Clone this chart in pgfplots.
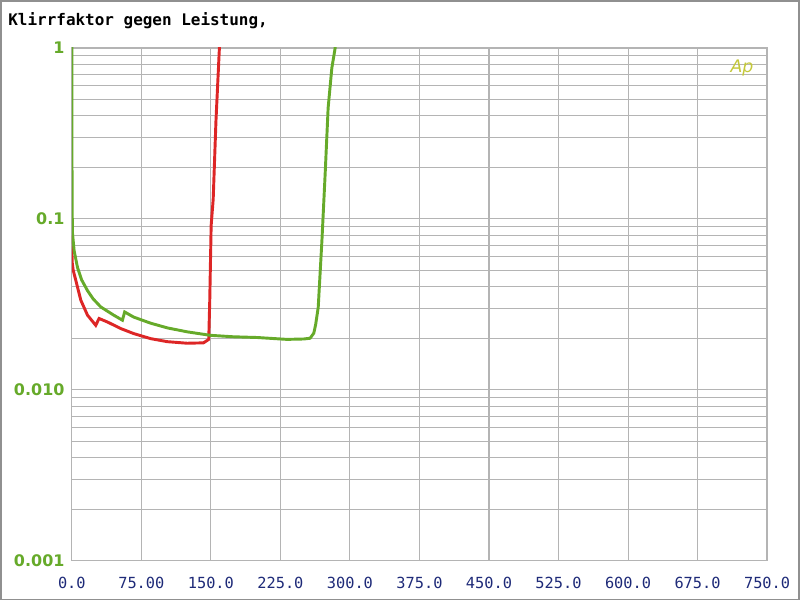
\documentclass[border=0pt]{standalone}
\usepackage{fontspec}
\setmonofont{DejaVu Sans Mono}
\setsansfont{DejaVu Sans}
\usepackage{pgfplots}
\pgfplotsset{compat=1.18}

\definecolor{apred}{HTML}{DD2626}
\definecolor{apgreen}{HTML}{66AA2A}
\definecolor{apnavy}{HTML}{1E2A78}
\definecolor{apgrid}{HTML}{B4B4B4}
\definecolor{aplogo}{HTML}{C4C83A}

\begin{document}
\begin{tikzpicture}
% page frame, 800 x 600 px (1 px = 0.75 pt)
\draw[apgrid!80!black, line width=1.5pt] (0pt,0pt) rectangle (600pt,450pt);
\node[anchor=west, font=\ttfamily\bfseries\fontsize{12}{14}\selectfont] at (2pt,435pt) {Klirrfaktor gegen Leistung,};

\begin{axis}[
    at={(53.25pt,29.25pt)}, anchor=south west,
    scale only axis,
    width=522.75pt, height=385.5pt,
    ymode=log,
    xmin=0, xmax=750,
    ymin=0.001, ymax=1,
    xtick={0,75,...,750},
    xticklabels={0.0,75.00,150.0,225.0,300.0,375.0,450.0,525.0,600.0,675.0,750.0},
    ytick={0.001,0.01,0.1,1},
    yticklabels={0.001,0.010,0.1,1},
    xmajorgrids=true, ymajorgrids=true, yminorgrids=true,
    grid style={apgrid, line width=0.8pt},
    minor grid style={apgrid, line width=0.8pt},
    major tick length=0pt, minor tick length=0pt,
    axis line style={apgrid, line width=1pt},
    xticklabel style={font=\ttfamily\fontsize{11.5}{13}\selectfont, text=apnavy, yshift=-9pt},
    yticklabel style={font=\sffamily\bfseries\fontsize{12}{14}\selectfont, text=apgreen, xshift=-2pt},
    clip=true,
]

% red curve
\addplot[apred, line width=2.2pt] coordinates {
(0,0.080) (0.3,0.056) (1.5,0.050) (4.3,0.0436) (9.7,0.0334) (16.9,0.0273) (25.8,0.0238)
(29.4,0.0261) (38.4,0.0249) (52.7,0.0228) (66.7,0.0213) (85,0.0199)
(103,0.0191) (124.5,0.0187) (142,0.0188) (147.7,0.0197) (148.8,0.0334)
(150.3,0.0914) (152.5,0.13) (155.5,0.375) (159.2,1.0) (159.6,1.2)
};

% green curve
\addplot[apgreen, line width=2.2pt] coordinates {
(0,1.2) (0,1) (0.3,0.12) (0.75,0.082) (2.5,0.065) (6.1,0.052) (10.5,0.044) (16.9,0.038) (23,0.034) (31.2,0.0305)
(45.2,0.0273) (54.6,0.0255) (57,0.0285) (66.7,0.0266) (85,0.0245)
(103,0.0230) (124.5,0.0218) (149.6,0.0208) (174.3,0.0204) (200,0.0202)
(232,0.0197) (250,0.0198) (257,0.0200) (261,0.0214) (263,0.024)
(265.8,0.0303) (269.8,0.0747) (273.3,0.184) (276.5,0.446) (280.5,0.764)
(284.1,1.0) (284.5,1.2)
};

\node[font=\sffamily\itshape\fontsize{13}{15}\selectfont, text=aplogo] at (rel axis cs:0.964,0.961) {Ap};
\end{axis}
\end{tikzpicture}
\end{document}
